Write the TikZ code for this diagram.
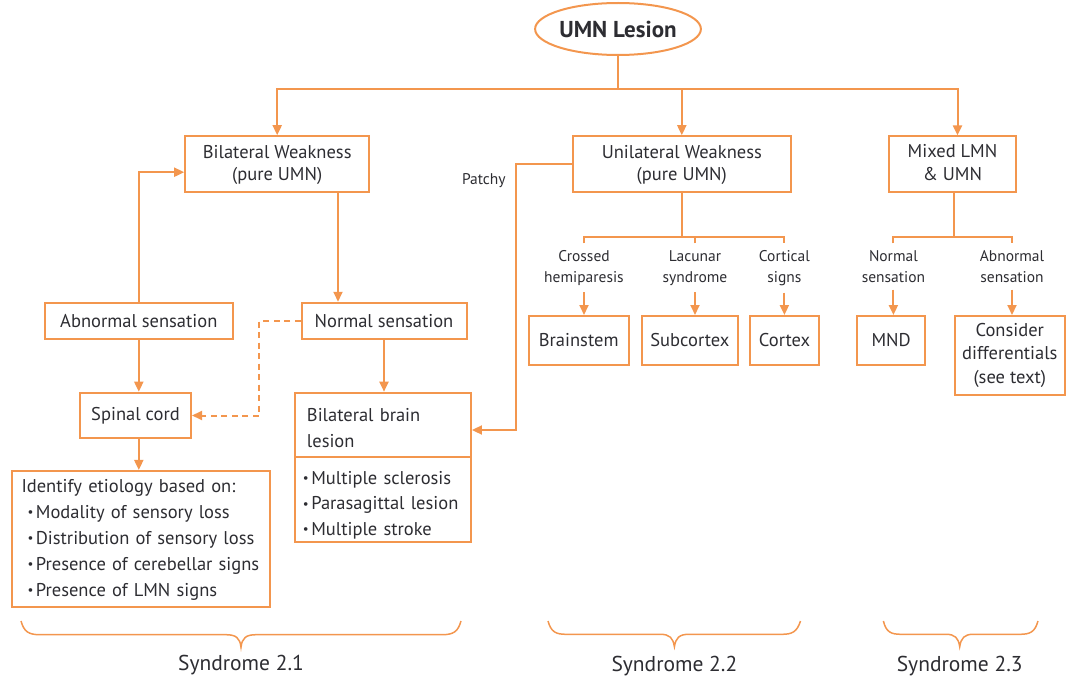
\documentclass[tikz,border=0pt]{standalone}
\usepackage{fontspec}
\setmainfont{PT Sans}
\usetikzlibrary{arrows.meta,shapes.geometric}
\definecolor{org}{RGB}{243,150,78}
\definecolor{txt}{RGB}{45,45,50}
\newcommand{\bul}{{\fontsize{13}{13}\selectfont\raisebox{1.5pt}{•}}\hspace{2.5pt}}
\begin{document}
\begin{tikzpicture}[x=1pt,y=-1pt,
  line width=2pt,
  every node/.style={text=txt},
  mainf/.style={font=\fontsize{18.5}{22.7}\selectfont},
  smallf/.style={font=\fontsize{15.5}{21}\selectfont},
  box/.style={draw=org,line width=2pt,rectangle,inner sep=0pt,align=center,mainf},
  lab/.style={smallf,align=center,inner xsep=1pt,inner ysep=6pt,anchor=north},
  arr/.style={draw=org,-{Triangle[length=10pt,width=9pt]}},
  ln/.style={draw=org},
]
\useasboundingbox (0,0) rectangle (1069,682);
% top
\node[draw=org,ellipse,line width=2pt,minimum width=154pt,minimum height=52pt,inner sep=0pt,font=\fontsize{23}{26}\selectfont\bfseries] (umn) at (618,29) {UMN Lesion};
% level 1
\node[box,minimum width=184pt,minimum height=56pt,text height=38.5pt,text depth=5pt] (bil) at (277.2,164.2) {Bilateral Weakness\\(pure UMN)};
\node[box,minimum width=218.5pt,minimum height=56pt,text height=38.5pt,text depth=5pt] (uni) at (681.8,164.2) {Unilateral Weakness\\(pure UMN)};
\node[box,minimum width=127pt,minimum height=56pt,text height=37.4pt,text depth=5pt] (mix) at (952.5,164.4) {Mixed LMN\\\& UMN};
% syndrome 2.1
\node[box,minimum width=188pt,minimum height=36.5pt] (abn) at (138.8,321) {Abnormal sensation};
\node[box,minimum width=165pt,minimum height=36.5pt] (nor) at (384,321) {Normal sensation};
\node[box,minimum width=111pt,minimum height=45.6pt] (spi) at (135.5,415.5) {Spinal cord};
\node[box,minimum width=258pt,minimum height=135.7pt,text width=238pt,inner xsep=10pt,align=left,font=\fontsize{18.5}{25.9}\selectfont,text height=15pt,text depth=107.5pt] (ide) at (140.5,538.8)
  {Identify etiology based on:\\
   \hspace*{6pt}\bul Modality of sensory loss\\
   \hspace*{6pt}\bul Distribution of sensory loss\\
   \hspace*{6pt}\bul Presence of cerebellar signs\\
   \hspace*{6pt}\bul Presence of LMN signs};
\node[box,minimum width=175.5pt,minimum height=64.6pt,text width=152.5pt,inner xsep=11.5pt,align=left,font=\fontsize{18.5}{26}\selectfont,text height=17pt,text depth=23.8pt] (bbl) at (383.2,425) {Bilateral brain\\lesion};
\node[box,minimum width=175.5pt,minimum height=84.7pt,text width=160.5pt,inner xsep=7.5pt,align=left,font=\fontsize{18.5}{25.4}\selectfont,text height=16pt,text depth=46.7pt] (bbx) at (383.2,499.65)
  {\bul Multiple sclerosis\\
   \bul Parasagittal lesion\\
   \bul Multiple stroke};
\node[smallf,inner sep=1pt] (pat) at (483.8,181) {Patchy};
% syndrome 2.2
\node[lab] (cro) at (584,243.3) {Crossed\\hemiparesis};
\node[lab] (lac) at (695,243.3) {Lacunar\\syndrome};
\node[lab] (cor) at (784.4,243.3) {Cortical\\signs};
\node[box,minimum width=99.8pt,minimum height=49pt] (bst) at (578.7,340.5) {Brainstem};
\node[box,minimum width=96pt,minimum height=49pt] (sub) at (689.9,340.5) {Subcortex};
\node[box,minimum width=68.3pt,minimum height=49pt] (ctx) at (784.6,340.5) {Cortex};
% syndrome 2.3
\node[lab] (ns) at (893.4,243.3) {Normal\\sensation};
\node[lab] (as) at (1012,243.3) {Abnormal\\sensation};
\node[box,minimum width=68pt,minimum height=49pt] (mnd) at (891.2,340.5) {MND};
\node[box,minimum width=109.7pt,minimum height=79pt,font=\fontsize{18.5}{23.7}\selectfont,text height=62.2pt,text depth=6pt] (con) at (1009.8,355.5) {Consider\\differentials\\(see text)};
% coordinates
\coordinate (T) at (618,89.3);
\coordinate (D) at (259,321);
\coordinate (P) at (516,430);
\coordinate (U) at (681.8,236.7);
\coordinate (M) at (953.6,236.7);
% connectors
\draw[ln] (umn.south) -- (T);
\draw[arr] (T) -| (bil.north);
\draw[arr] (T) -| (uni.north);
\draw[arr] (T) -| ([xshift=5pt]mix.north);
\draw[arr] ([xshift=60.8pt]bil.south) -- ([xshift=60.8pt]bil.south |- nor.north);
\draw[arr] (abn.north) |- ([yshift=-8pt]bil.west);
\draw[arr,dash pattern=on 6pt off 4.5pt] (nor.west) -| (D |- spi.east) -- (spi.east);
\draw[arr] (abn.south) -- (abn.south |- spi.north);
\draw[arr] (abn.south |- spi.south) -- (abn.south |- ide.north);
\draw[arr] (nor.south) -- (nor.south |- bbl.north);
\draw[arr] (uni.west) -| (P) -- (bbl.east |- P);
% unilateral branches
\draw[ln] (uni.south) -- (U);
\draw[ln] (cro.north) -- (cro.north |- U) -- (cor.north |- U) -- (cor.north);
\draw[ln] (lac.north) -- (lac.north |- U);
\draw[arr] (cro.south) -- (cro.south |- bst.north);
\draw[arr] (lac.south) -- (lac.south |- sub.north);
\draw[arr] (cor.south) -- (cor.south |- ctx.north);
% mixed branches
\draw[ln] (mix.south -| M) -- (M);
\draw[ln] (ns.north) -- (ns.north |- M) -- (as.north |- M) -- (as.north);
\draw[arr] (ns.south) -- (ns.south |- mnd.north);
\draw[arr] (as.south) -- (as.south |- con.north);
% braces
\draw[org,line width=1.5pt] (21,621) .. controls (24,632) and (29,634.7) .. (40,634.7) -- (226,634.7) .. controls (236,634.7) and (240,638) .. (241,647.3) .. controls (242,638) and (246,634.7) .. (256,634.7) -- (442,634.7) .. controls (453,634.7) and (458,632) .. (461,621);
\draw[org,line width=1.5pt] (548,621) .. controls (551,632) and (556,634.3) .. (566,634.3) -- (660,634.3) .. controls (670,634.3) and (673,638) .. (674.4,646.7) .. controls (675.8,638) and (679,634.3) .. (689,634.3) -- (782,634.3) .. controls (792,634.3) and (797,632) .. (800.5,621);
\draw[org,line width=1.5pt] (883.4,621) .. controls (886,632) and (891,634.3) .. (901,634.3) -- (946,634.3) .. controls (955,634.3) and (958.5,638) .. (959.7,646.7) .. controls (961,638) and (964.5,634.3) .. (973,634.3) -- (1020,634.3) .. controls (1030,634.3) and (1035,632) .. (1038,621);
\node[font=\fontsize{21.5}{24}\selectfont] (s1) at (241,665) {Syndrome 2.1};
\node[font=\fontsize{21.5}{24}\selectfont] (s2) at (674.4,666) {Syndrome 2.2};
\node[font=\fontsize{21.5}{24}\selectfont] (s3) at (959.7,666) {Syndrome 2.3};
\end{tikzpicture}
\end{document}
